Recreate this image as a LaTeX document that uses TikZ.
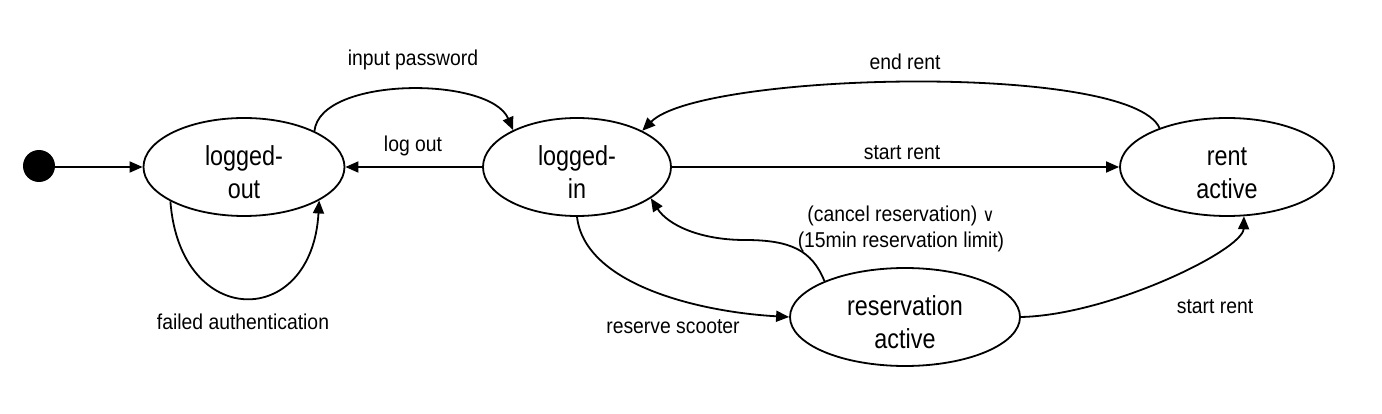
\documentclass[tikz,border=0pt]{standalone}
\usepackage{fontspec}
\setmainfont[FakeStretch=0.9]{Liberation Sans}
\newfontfamily\statefont[FakeStretch=0.85]{Liberation Sans}
\newfontfamily\symfont[FakeStretch=0.9]{DejaVu Sans}
\usetikzlibrary{shapes.geometric,arrows.meta}
\newcommand{\dn}{\rule{0pt}{30pt}}
\begin{document}
\begin{tikzpicture}[x=1pt,y=-1pt,
  state/.style={ellipse,draw,line width=1.8pt,minimum height=98pt,inner sep=0pt,align=center,
     font=\statefont\fontsize{27.5}{33}\selectfont},
  lbl/.style={font=\fontsize{21.5}{26}\selectfont,inner sep=0pt,align=center},
  tr/.style={line width=1.8pt,-{Triangle[length=13pt,width=11pt]}}]
\useasboundingbox (0,0) rectangle (1382,414);
\fill (39,166) circle[x radius=16pt,y radius=16pt];
\coordinate (init) at (55,167);
\node[state,minimum width=201pt] (lo) at (244,167) {\dn logged-\\out};
\node[state,minimum width=188pt] (li) at (577,167) {\dn logged-\\in};
\node[state,minimum width=214pt] (ra) at (1227,167) {\dn rent\\active};
\node[state,minimum width=230pt] (rs) at (905,317) {\dn reservation\\active};
% edges
\draw[tr] (init) -- (lo.west);
\draw[tr] (li.west) -- (lo.east);
\draw[tr] (lo.27.5) .. controls (320,76) and (490,76) .. (li.150.3);
\draw[tr] (lo.205.6) .. controls (180,330) and (312,330) .. (lo.336);
\draw[tr] (li.east) -- (ra.west);
\draw[tr] (ra.150.9) .. controls (1130,62) and (700,72) .. (li.29.6);
\draw[tr] (rs.156.6) .. controls (812,250) and (790,240) .. (745,240) .. controls (700,240) and (668,225) .. (li.337.6);
\draw[tr] (li.south) .. controls (585,285) and (700,312) .. (rs.west);
\draw[tr] (rs.east) .. controls (1110,315) and (1243,250) .. (ra.-71.6);
% labels
\node[lbl] (l1) at (413,60) {input password};
\node[lbl] (l2) at (413,146) {log out};
\node[lbl] (l3) at (243,322) {failed authentication};
\node[lbl] (l4) at (905,62) {end rent};
\node[lbl] (l5) at (902,153) {start rent};
\node[lbl] (l6) at (901,229) {(cancel reservation) {\symfont\fontsize{18}{26}\selectfont ∨}\\(15min reservation limit)};
\node[lbl] (l7) at (673,327) {reserve scooter};
\node[lbl] (l8) at (1215,307) {start rent};
\end{tikzpicture}
\end{document}
